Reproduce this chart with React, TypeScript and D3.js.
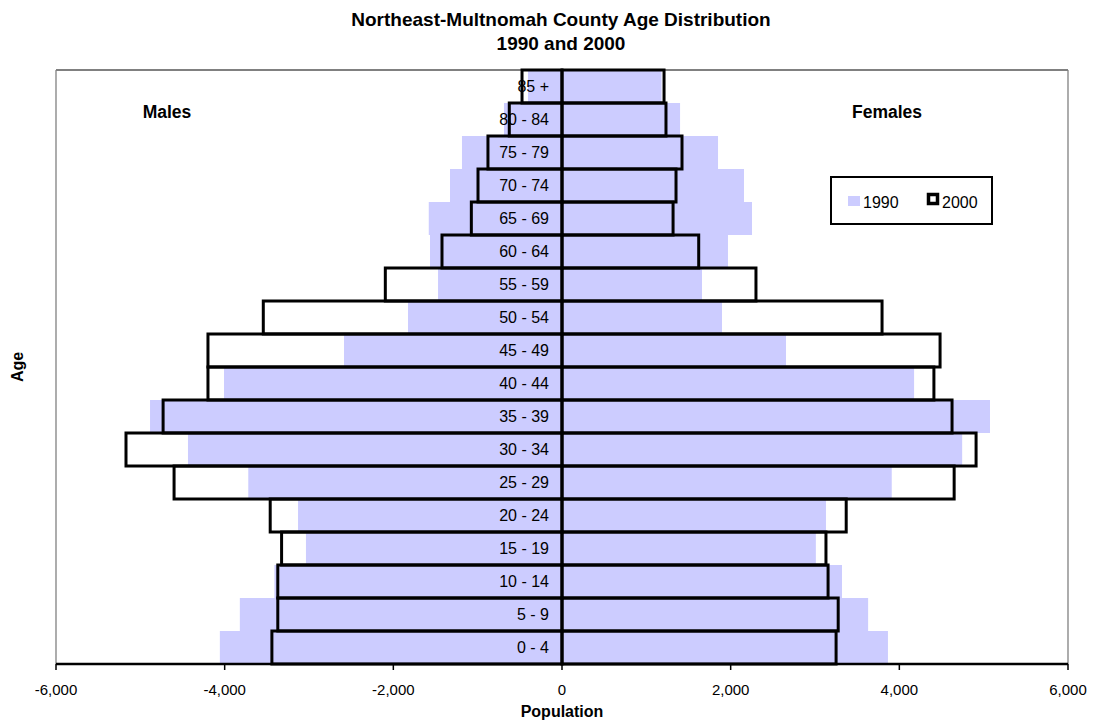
import React from "react";
import * as d3 from "d3";

const categories = ["0 - 4", "5 - 9", "10 - 14", "15 - 19", "20 - 24", "25 - 29", "30 - 34", "35 - 39", "40 - 44", "45 - 49", "50 - 54", "55 - 59", "60 - 64", "65 - 69", "70 - 74", "75 - 79", "80 - 84", "85 +"];
const males1990 = [-4057, -3820, -3410, -3036, -3130, -3720, -4435, -4885, -4008, -2585, -1826, -1470, -1565, -1580, -1328, -1186, -688, -403];
const males2000 = [-3440, -3370, -3370, -3325, -3460, -4600, -5170, -4730, -4198, -4198, -3542, -2095, -1423, -1075, -996, -878, -625, -474];
const females1990 = [3865, 3630, 3320, 3010, 3130, 3910, 4745, 5075, 4175, 2656, 1897, 1660, 1968, 2253, 2158, 1850, 1400, 1180];
const females2000 = [3250, 3275, 3155, 3130, 3370, 4650, 4910, 4625, 4410, 4483, 3795, 2300, 1621, 1317, 1352, 1423, 1233, 1210];
const xTicks = [-6000, -4000, -2000, 0, 2000, 4000, 6000];
const seriesNames = ["1990", "2000"];

const W = 1097, H = 728;
const left = 56, right = 1068, top = 70, bottom = 664;
const FONT = "'Liberation Sans', Arial, sans-serif";

export default function App() {
  const x = d3.scaleLinear().domain([-6000, 6000]).range([left, right]);
  const y = d3.scaleBand<string>().domain([...categories].reverse()).range([top, bottom]).padding(0);
  const bw = y.bandwidth();
  const fmt = (v: number) => d3.format(",")(v).replace("\u2212", "-");

  const rect = (v: number, cat: string) => {
    const x0 = Math.min(x(0), x(v));
    const w = Math.abs(x(v) - x(0));
    return { x: x0, y: y(cat)!, width: w, height: bw };
  };

  return (
    <svg width={W} height={H} style={{ position: "absolute", left: 0, top: 0, background: "#fff" }} fontFamily={FONT}>
      <rect x={0} y={0} width={W} height={H} fill="#fff" />
      <text x={561} y={26} textAnchor="middle" fontSize={19} fontWeight="bold">Northeast-Multnomah County Age Distribution</text>
      <text x={561} y={50} textAnchor="middle" fontSize={19} fontWeight="bold">1990 and 2000</text>

      {/* plot border */}
      <line x1={left} y1={top} x2={right} y2={top} stroke="#808080" strokeWidth={2} />
      <line x1={left} y1={top} x2={left} y2={bottom} stroke="#808080" strokeWidth={1.3} />
      <line x1={right} y1={top} x2={right} y2={bottom} stroke="#808080" strokeWidth={1.3} />

      {/* 1990 bars */}
      {categories.map((c, i) => {
        const a = rect(males1990[i], c);
        const b = rect(females1990[i], c);
        return (
          <g key={"b90" + i}>
            <rect {...a} fill="#ccccff" />
            <rect {...b} fill="#ccccff" />
          </g>
        );
      })}
      {/* 2000 bars */}
      {categories.map((c, i) => {
        const a = rect(males2000[i], c);
        const b = rect(females2000[i], c);
        return (
          <g key={"b00" + i}>
            <rect {...a} fill="none" stroke="#000" strokeWidth={3} />
            <rect {...b} fill="none" stroke="#000" strokeWidth={3} />
          </g>
        );
      })}

      {/* category labels */}
      {categories.map((c) => (
        <text key={"l" + c} x={x(0) - 13} y={y(c)! + bw / 2} dy="0.35em" textAnchor="end" fontSize={16}>{c}</text>
      ))}

      {/* x axis */}
      <line x1={left} y1={bottom} x2={right} y2={bottom} stroke="#000" strokeWidth={2.5} />
      {xTicks.map((t) => (
        <g key={"t" + t}>
          <line x1={x(t)} y1={bottom} x2={x(t)} y2={bottom + 6} stroke="#000" strokeWidth={1.5} />
          <text x={x(t)} y={695} textAnchor="middle" fontSize={15}>{fmt(t)}</text>
        </g>
      ))}
      <text x={x(0)} y={717} textAnchor="middle" fontSize={16} fontWeight="bold">Population</text>
      <text transform="translate(23,367) rotate(-90)" textAnchor="middle" fontSize={16} fontWeight="bold">Age</text>

      <text x={167} y={118} textAnchor="middle" fontSize={17.5} fontWeight="bold">Males</text>
      <text x={887} y={118} textAnchor="middle" fontSize={17.5} fontWeight="bold">Females</text>

      {/* legend */}
      <rect x={831} y={177} width={161} height={47} fill="#fff" stroke="#000" strokeWidth={2} />
      <rect x={848} y={196} width={12} height={10} fill="#ccccff" />
      <text x={863} y={208} fontSize={16}>{seriesNames[0]}</text>
      <rect x={928.5} y={194.5} width={9} height={9} fill="#fff" stroke="#000" strokeWidth={3.5} />
      <text x={942} y={208} fontSize={16}>{seriesNames[1]}</text>
    </svg>
  );
}
